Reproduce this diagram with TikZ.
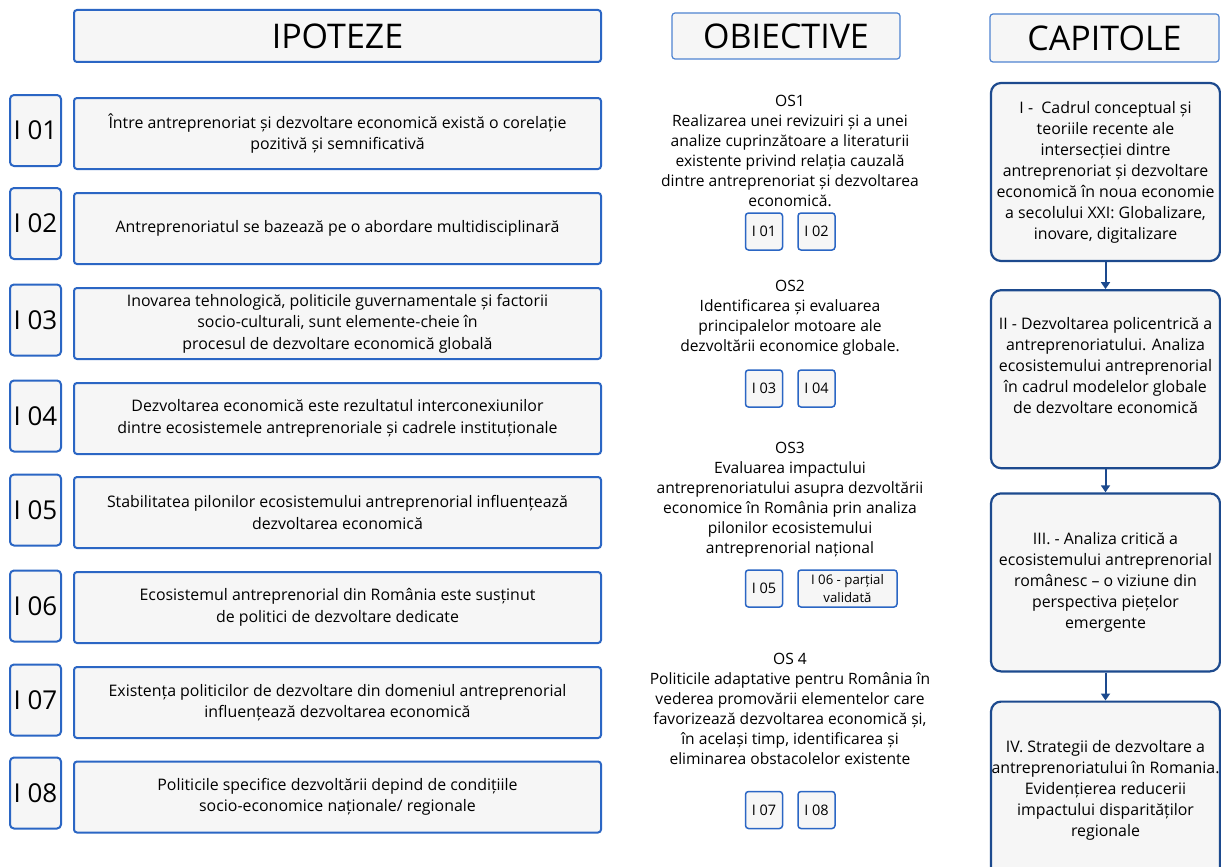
\documentclass[tikz,border=0pt]{standalone}
\usepackage{fontspec}
\setmainfont{Open Sans}
\usetikzlibrary{positioning, arrows.meta}

\definecolor{albastru}{HTML}{2B66C4}
\definecolor{albastrudeschis}{HTML}{4F84D1}
\definecolor{bleumarin}{HTML}{1D4A8E}
\definecolor{fundal}{HTML}{F6F6F6}

\begin{document}
\begin{tikzpicture}[x=1pt, y=-1pt, inner sep=2pt,
   titlu/.style={draw=albastru, line width=2pt, fill=fundal, rounded corners=3pt, font=\fontsize{34}{38}\selectfont},
   cod/.style={draw=albastru, line width=2pt, fill=fundal, rounded corners=4pt, minimum width=51pt, minimum height=71pt, font=\fontsize{26}{30}\selectfont},
   ipoteza/.style={draw=albastru, line width=2pt, fill=fundal, rounded corners=3pt, minimum width=527pt, minimum height=71pt, align=center, font=\fontsize{15.9}{21.5}\selectfont},
   obiectiv/.style={align=center, font=\fontsize{15.6}{20}\selectfont},
   mic/.style={draw=albastru, line width=1.5pt, fill=fundal, rounded corners=3pt, minimum width=37pt, minimum height=37pt, font=\fontsize{14.5}{16}\selectfont},
   capitol/.style={draw=bleumarin, line width=2.2pt, fill=fundal, rounded corners=10pt, minimum width=229pt, minimum height=178pt, inner sep=0.5pt, align=center, font=\fontsize{15.9}{21}\selectfont},
   sageata/.style={-{Triangle[length=7pt, width=9pt]}, draw=bleumarin, line width=2pt}]
   \path[use as bounding box, fill=white] (0,0) rectangle (1221,867);

   % Titluri
   \node[titlu, minimum width=527pt, minimum height=52pt] (ipoteze) at (337.5,36) {IPOTEZE};
   \node[titlu, draw=albastrudeschis, line width=1.2pt, minimum width=228pt, minimum height=46pt] (obiective) at (786,36) {OBIECTIVE};
   \node[titlu, draw=albastrudeschis, line width=1.2pt, minimum width=229pt, minimum height=48pt] (capitole) at (1104.5,38) {CAPITOLE};

   % Ipoteze
   \node[cod] (i01) at (35.5,130.5) {I 01};
   \node[cod] (i02) at (35.5,223.5) {I 02};
   \node[cod] (i03) at (35.5,320) {I 03};
   \node[cod] (i04) at (35.5,416) {I 04};
   \node[cod] (i05) at (35.5,510) {I 05};
   \node[cod] (i06) at (35.5,606) {I 06};
   \node[cod] (i07) at (35.5,700) {I 07};
   \node[cod] (i08) at (35.5,793) {I 08};

   \node[ipoteza] (ti01) at (337.5,133.5) {Între antreprenoriat și dezvoltare economică există o corelație\\pozitivă și semnificativă};
   \node[ipoteza] (ti02) at (337.5,228.5) {Antreprenoriatul se bazează pe o abordare multidisciplinară};
   \node[ipoteza] (ti03) at (337.5,323.5) {Inovarea tehnologică, politicile guvernamentale și factorii\\socio-culturali, sunt elemente-cheie în\\procesul de dezvoltare economică globală};
   \node[ipoteza] (ti04) at (337.5,418.5) {Dezvoltarea economică este rezultatul interconexiunilor\\dintre ecosistemele antreprenoriale și cadrele instituționale};
   \node[ipoteza] (ti05) at (337.5,512.5) {Stabilitatea pilonilor ecosistemului antreprenorial influențează\\dezvoltarea economică};
   \node[ipoteza] (ti06) at (337.5,607.5) {Ecosistemul antreprenorial din România este susținut\\de politici de dezvoltare dedicate};
   \node[ipoteza] (ti07) at (337.5,702.5) {Existența politicilor de dezvoltare din domeniul antreprenorial\\influențează dezvoltarea economică};
   \node[ipoteza] (ti08) at (337.5,797) {Politicile specifice dezvoltării depind de condițiile\\socio-economice naționale/ regionale};

   % Obiective
   \node[obiectiv] (os1) at (790,150.5) {OS1\\Realizarea unei revizuiri și a unei\\analize cuprinzătoare a literaturii\\existente privind relația cauzală\\dintre antreprenoriat și dezvoltarea\\economică.};
   \node[mic] (o01) at (764,231.5) {I 01};
   \node[mic] (o02) [right=14pt of o01] {I 02};

   \node[obiectiv] (os2) at (790,317.5) {OS2\\Identificarea și evaluarea\\principalelor motoare ale\\dezvoltării economice globale.};
   \node[mic] (o03) at (764,388.5) {I 03};
   \node[mic] (o04) [right=14pt of o03] {I 04};

   \node[obiectiv] (os3) at (790,499.5) {OS3\\Evaluarea impactului\\antreprenoriatului asupra dezvoltării\\economice în România prin analiza\\pilonilor ecosistemului\\antreprenorial național};
   \node[mic] (o05) at (764,588.5) {I 05};
   \node[mic, minimum width=99pt, align=center, font=\fontsize{13.2}{18}\selectfont, inner sep=1pt] (o06) [right=14pt of o05] {I 06 - parțial\\validată};

   \node[obiectiv] (os4) at (790,708.5) {OS 4\\Politicile adaptative pentru România în\\vederea promovării elementelor care\\favorizează dezvoltarea economică și,\\în același timp, identificarea și\\eliminarea obstacolelor existente};
   \node[mic] (o07) at (764,810) {I 07};
   \node[mic] (o08) [right=14pt of o07] {I 08};

   % Capitole
   \node[capitol] (cap1) at (1105.5,172) {I -\ \ Cadrul conceptual și\\teoriile recente ale\\intersecției dintre\\antreprenoriat și dezvoltare\\economică în noua economie\\a secolului XXI: Globalizare,\\inovare, digitalizare};
   \node[capitol] (cap2) [below=27pt of cap1] {II - Dezvoltarea policentrică a\\antreprenoriatului. Analiza\\ecosistemului antreprenorial\\în cadrul modelelor globale\\de dezvoltare economică\\[6pt]};
   \node[capitol] (cap3) [below=23pt of cap2] {III. - Analiza critică a\\ecosistemului antreprenorial\\românesc – o viziune din\\perspectiva piețelor\\emergente};
   \node[capitol] (cap4) [below=28pt of cap3] {IV. Strategii de dezvoltare a\\antreprenoriatului în Romania.\\Evidențierea reducerii\\impactului disparităților\\regionale};

   \draw[sageata] (cap1) -- (cap2);
   \draw[sageata] (cap2) -- (cap3);
   \draw[sageata] (cap3) -- (cap4);
\end{tikzpicture}
\end{document}
